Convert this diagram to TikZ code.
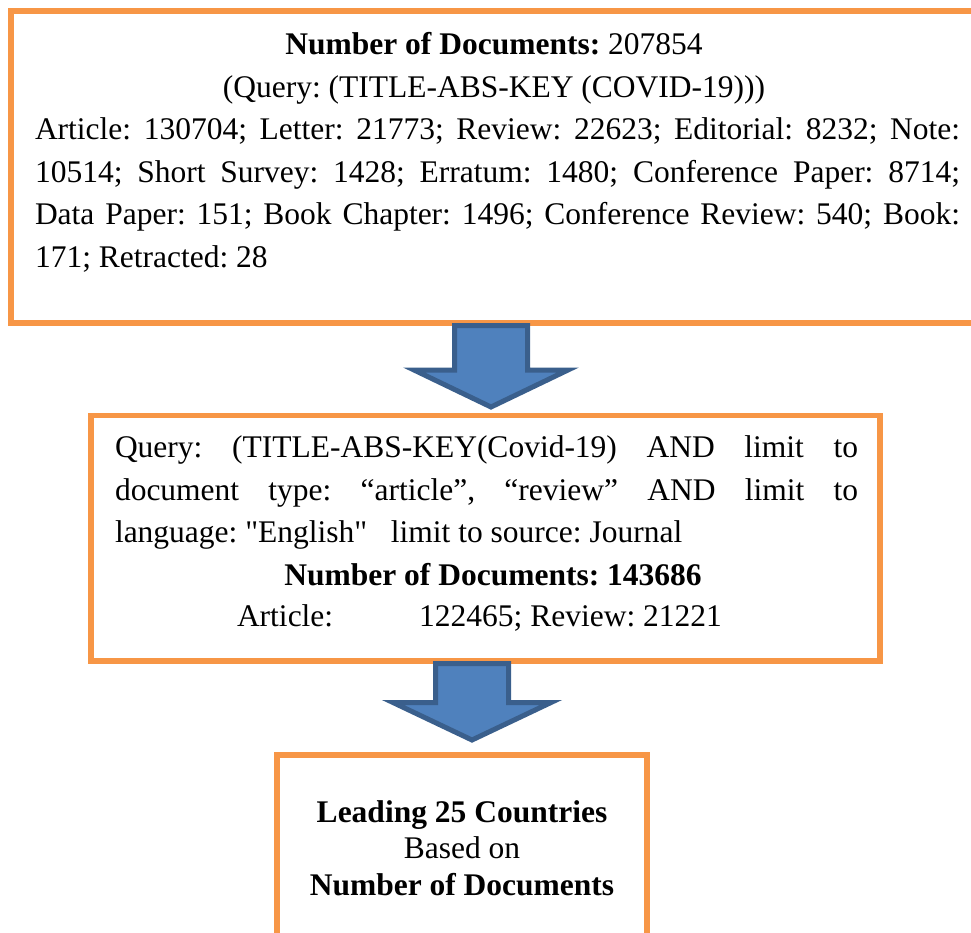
\documentclass[tikz,border=0pt]{standalone}
\usepackage{fontspec}
\setmainfont{Liberation Serif}[Ligatures=TeXOff]
\definecolor{boxorange}{HTML}{F79646}
\definecolor{arrowblue}{HTML}{4F81BD}
\definecolor{arrowdark}{HTML}{3A5F8C}
\frenchspacing
\begin{document}
\begin{tikzpicture}[x=1pt,y=-1pt,
  obox/.style={draw=boxorange, line width=5.5pt, fill=white, inner sep=0pt, outer sep=0pt, rectangle, anchor=north west},
  barrow/.style={draw=arrowdark, fill=arrowblue, line width=5pt, line join=miter},
  txt/.style={inner sep=0pt, outer sep=0pt, font=\fontsize{31.5pt}{42.5pt}\selectfont},
]
\useasboundingbox (0,0) rectangle (971,933);
\clip (0,0) rectangle (971,933);

% boxes
\node[obox, minimum width=979pt, minimum height=312pt] (box1) at (11,11) {};
% arrow 1
\draw[barrow] (454.5,325.5) -- (527.5,325.5) -- (527.5,370) -- (568,370)
   -- (491,407) -- (414,370) -- (454.5,370) -- cycle;
\node[obox, minimum width=789pt, minimum height=245.5pt] (box2) at (91,415.5) {};
% arrow 2
\draw[barrow] (435.5,663.5) -- (508.5,663.5) -- (508.5,702.5) -- (551,702.5)
   -- (472,740) -- (393,702.5) -- (435.5,702.5) -- cycle;
\node[obox, minimum width=370pt, minimum height=220pt] (box3) at (277,755) {};

% text of box 1
\node[txt, anchor=base] (t1) at (494,55) {\textbf{Number of Documents:} 207854};
\node[txt, anchor=base] (t2) at (494,98) {(Query: (TITLE-ABS-KEY (COVID-19)))};
\node[txt, anchor=base west] (t3) at (35,140) {\makebox[925pt][s]{Article: 130704; Letter: 21773; Review: 22623; Editorial: 8232; Note:}};
\node[txt, anchor=base west] (t4) at (35,183) {\makebox[925pt][s]{10514; Short Survey: 1428; Erratum: 1480; Conference Paper: 8714;}};
\node[txt, anchor=base west] (t5) at (35,225) {\makebox[925pt][s]{Data Paper: 151; Book Chapter: 1496; Conference Review: 540; Book:}};
\node[txt, anchor=base west] (t6) at (35,267) {171; Retracted: 28};

% text of box 2
\node[txt, anchor=base west] (m1) at (115,457) {\makebox[743pt][s]{Query: (TITLE-ABS-KEY(Covid-19) AND limit to}};
\node[txt, anchor=base west] (m2) at (115,500) {\makebox[743pt][s]{document type: “article”, “review” AND limit to}};
\node[txt, anchor=base west] (m3) at (115,542) {language: "English"\ \ \ limit to source: Journal};
\node[txt, anchor=base] (m4) at (493,585) {\textbf{Number of Documents: 143686}};
\node[txt, anchor=base west] (m5) at (237,626) {Article:\hspace*{86pt}122465; Review: 21221};

% text of box 3
\node[txt, anchor=base] (b1) at (462,822) {\textbf{Leading 25 Countries}};
\node[txt, anchor=base] (b2) at (462,858) {Based on};
\node[txt, anchor=base] (b3) at (462,895) {\textbf{Number of Documents}};
\end{tikzpicture}
\end{document}
